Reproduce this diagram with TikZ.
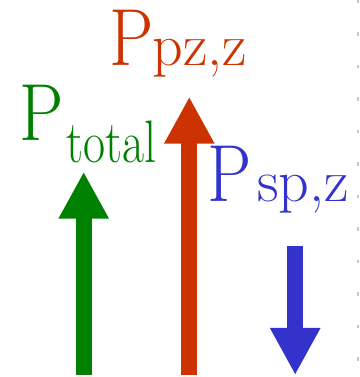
\documentclass[tikz,border=0pt]{standalone}
\usetikzlibrary{arrows.meta}
\definecolor{cgreen}{RGB}{0,128,0}
\definecolor{cred}{RGB}{204,51,0}
\definecolor{cblue}{RGB}{51,51,204}
\definecolor{cgray}{RGB}{200,200,200}
\newcommand{\bigPtext}{\scalebox{0.87}[1]{P}}
\tikzset{
  bigP/.style={anchor=base west, inner sep=0pt, font=\fontsize{81}{86}\selectfont},
  subtxt/.style={anchor=base west, inner sep=0pt, font=\fontsize{60}{64}\selectfont},
  fatarrow/.style={line width=16pt, -{Triangle[width=47pt,length=47pt]}},
}
\begin{document}
\begin{tikzpicture}[x=1pt,y=1pt]
\useasboundingbox (0,0) rectangle (359,377);
% dashed edge line
\coordinate (et) at (358,377);
\coordinate (eb) at (358,0);
\draw[cgray, line width=1.5pt, dash pattern=on 3.5pt off 29pt] (et) -- (eb);
% arrows
\coordinate (g0) at (83.7,2);
\coordinate (g1) at (83.7,205.3);
\coordinate (r0) at (189.3,2);
\coordinate (r1) at (189.3,280.3);
\coordinate (b0) at (295.2,131);
\coordinate (b1) at (295.2,2);
\draw[fatarrow, cgreen] (g0) -- (g1);
\draw[fatarrow, cred] (r0) -- (r1);
\draw[fatarrow, cblue] (b0) -- (b1);
% labels
\node[bigP, text=cgreen] (gP) at (19.3,236.5) {\bigPtext};
\node[subtxt, text=cgreen] (gs) at (66,214.7) {\scalebox{0.8}[1]{total}};
\node[bigP, text=cred] (rP) at (109.3,311.3) {\bigPtext};
\node[subtxt, text=cred] (rs) at (152.5,311.3) {pz,z};
\node[bigP, text=cblue] (bP) at (207.6,175.3) {\bigPtext};
\node[subtxt, text=cblue] (bs) at (256.8,175.3) {sp,z};
\end{tikzpicture}
\end{document}
